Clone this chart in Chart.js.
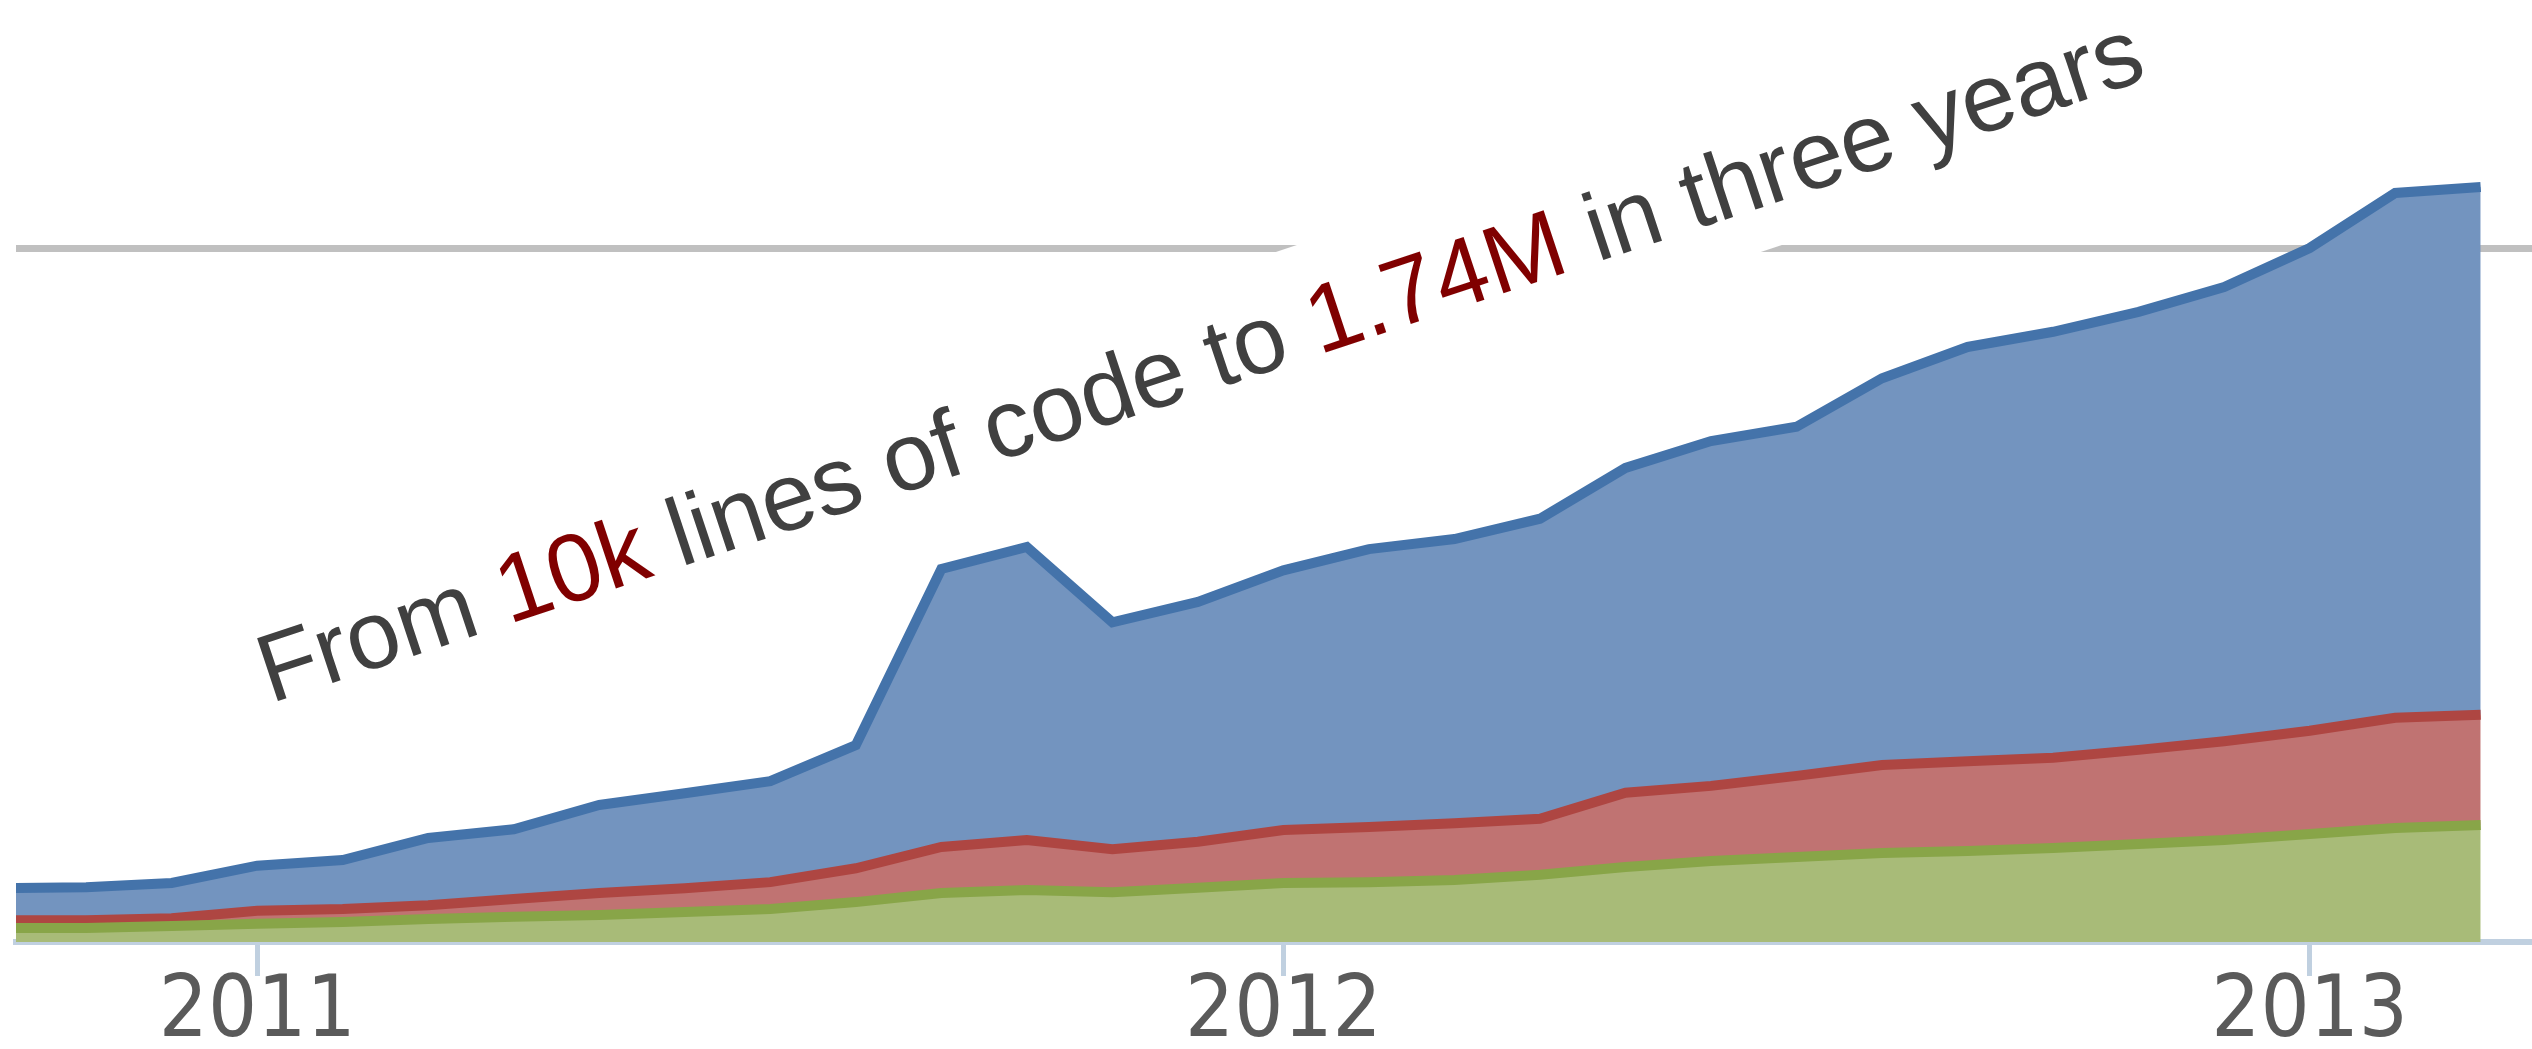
<!DOCTYPE html>
<html>
<head>
<meta charset="utf-8">
<script src="https://cdn.jsdelivr.net/npm/chart.js@4.4.1/dist/chart.umd.min.js"></script>
<style>
  html, body { margin: 0; padding: 0; background: #ffffff; }
  #wrap { width: 2532px; height: 1049px; position: relative; }
</style>
</head>
<body>
<div id="wrap"><canvas id="c"></canvas></div>
<script>
// Monthly snapshots (YYYY-MM)
const months = ['2010-10','2010-11','2010-12',
  '2011-01','2011-02','2011-03','2011-04','2011-05','2011-06','2011-07','2011-08','2011-09','2011-10','2011-11','2011-12',
  '2012-01','2012-02','2012-03','2012-04','2012-05','2012-06','2012-07','2012-08','2012-09','2012-10','2012-11','2012-12',
  '2013-01','2013-02','2013-03'];

// Lines of code, in thousands (stacked: green bottom, red middle, blue top)
const greenK = [32,32,37,42,46,53,58,62,69,76,92,113,120,115,125,136,138,143,155,173,187,196,205,210,217,226,235,249,263,270];
const redK   = [18,18,18,30,30,32,41,51,55,62,78,106,115,99,106,122,127,131,129,171,173,187,203,207,208,217,228,238,254,254];
const blueK  = [74,76,81,104,113,155,161,203,219,233,284,641,676,523,553,599,641,655,692,749,795,805,892,955,982,1010,1047,1113,1210,1217];

// Axis ticks
const yearTicks = ['2011','2012','2013'];
const gridValuesK = [1600];

const titleParts = [
  { text: 'From ', color: '#404040' },
  { text: '10k', color: '#800000' },
  { text: ' lines of code to ', color: '#404040' },
  { text: '1.74M', color: '#800000' },
  { text: ' in three years', color: '#404040' }
];

function monthPos(s) {
  const [y, m] = s.split('-').map(Number);
  return (y - 2011) * 12 + (m - 1);
}
const xs = months.map(monthPos);
const tickVals = yearTicks.map(y => (Number(y) - 2011) * 12);
const toPts = arr => arr.map((v, i) => ({ x: xs[i], y: v }));

const annotation = {
  id: 'annotation',
  afterDraw(chart) {
    const ctx = chart.ctx;
    ctx.save();
    ctx.translate(270.6, 703.4);
    ctx.rotate(-18.4 * Math.PI / 180);
    ctx.font = '96px "Liberation Sans", Arial, Helvetica, sans-serif';
    ctx.textBaseline = 'alphabetic';
    ctx.textAlign = 'left';
    let total = 0;
    titleParts.forEach(p => { total += ctx.measureText(p.text).width; });
    ctx.fillStyle = '#ffffff';
    ctx.fillRect(-30, -111, total + 60, 153);
    let x = 0;
    titleParts.forEach(p => {
      ctx.fillStyle = p.color;
      ctx.fillText(p.text, x, 0);
      x += ctx.measureText(p.text).width;
    });
    ctx.restore();
  }
};

const common = { borderWidth: 10, pointRadius: 0, pointHoverRadius: 0, tension: 0, clip: 0, borderJoinStyle: 'miter' };

new Chart(document.getElementById('c'), {
  type: 'line',
  data: {
    datasets: [
      Object.assign({ label: 'green', data: toPts(greenK), borderColor: '#88a548', backgroundColor: '#a8bb78', fill: 'origin' }, common),
      Object.assign({ label: 'red', data: toPts(redK), borderColor: '#ae4642', backgroundColor: '#c07372', fill: '-1' }, common),
      Object.assign({ label: 'blue', data: toPts(blueK), borderColor: '#4473aa', backgroundColor: '#7394bf', fill: '-1' }, common)
    ]
  },
  options: {
    responsive: true,
    maintainAspectRatio: false,
    animation: false,
    events: [],
    layout: { padding: { left: 16, right: 0, top: 0, bottom: 0 } },
    plugins: { legend: { display: false }, tooltip: { enabled: false }, title: { display: false } },
    scales: {
      x: {
        type: 'linear',
        min: -2.82,
        max: 26.6,
        z: 1,
        afterBuildTicks: axis => { axis.ticks = tickVals.map(v => ({ value: v })); },
        afterFit: scale => { scale.height = 107; },
        ticks: {
          autoSkip: false,
          maxRotation: 0,
          minRotation: 0,
          padding: 0,
          color: '#5a5a5a',
          font: { family: '"DejaVu Sans Condensed", "DejaVu Sans", sans-serif', size: 86, lineHeight: 0.88 },
          callback: v => { const i = tickVals.indexOf(v); return i >= 0 ? yearTicks[i] : ''; }
        },
        grid: { drawOnChartArea: false, drawTicks: true, tickLength: 34, tickWidth: 5, tickColor: '#c0d0e0' },
        border: { display: true, color: '#c0d0e0', width: 6 }
      },
      y: {
        type: 'linear',
        stacked: true,
        min: 0,
        max: 2172,
        z: 1,
        afterBuildTicks: axis => { axis.ticks = gridValuesK.map(v => ({ value: v })); },
        afterFit: scale => { scale.width = 0; },
        ticks: { display: false },
        grid: { drawTicks: false, color: 'rgba(110,110,110,0.43)', lineWidth: 7 },
        border: { display: false }
      }
    }
  },
  plugins: [annotation]
});
</script>
</body>
</html>
